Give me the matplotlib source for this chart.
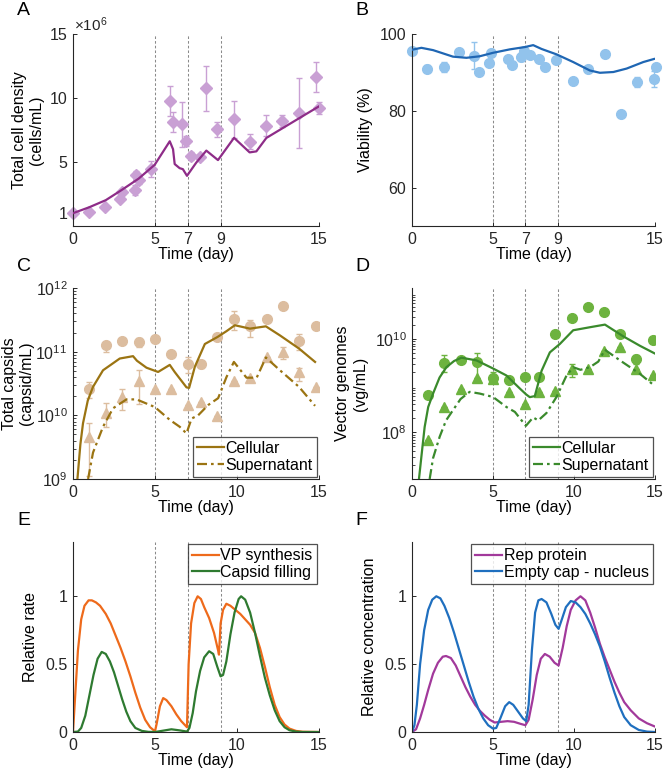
import numpy as np
import matplotlib
matplotlib.use("Agg")
import matplotlib.pyplot as plt

plt.rcParams['font.family'] = ['Liberation Sans', 'DejaVu Sans']
plt.rcParams['font.size'] = 11
plt.rcParams['mathtext.fontset'] = 'custom'
plt.rcParams['mathtext.rm'] = 'Liberation Sans'
plt.rcParams['mathtext.it'] = 'Liberation Sans'

# ---------------- A: total cell density (x1e6 cells/mL) ----------------
a_t = [0, 0.96, 1.95, 2.87, 2.97, 3.75, 3.85, 4.0, 4.78, 5.9, 6.1, 6.65, 6.91, 7.22, 7.73,
       8.13, 8.78, 9.82, 10.79, 11.74, 12.74, 13.76, 14.82, 14.98]
a_val = [1.0, 1.13, 1.47, 2.13, 2.68, 2.8, 4.0, 3.6, 4.44, 9.77, 8.12, 7.93, 6.67, 5.49, 5.36,
         10.75, 7.54, 8.33, 6.6, 7.85, 8.2, 8.83, 11.64, 9.22]
a_err = [0, 0, 0, 0.15, 0.2, 0.4, 0.3, 0.3, 0.6, 1.2, 0.75, 1.77, 0.4, 0.3, 0.2,
         1.77, 0.55, 1.45, 0.6, 0.8, 0.5, 2.7, 1.2, 0.5]
a_line_t = [0, 1, 2, 3, 4, 4.98, 5.9, 6.1, 6.2, 6.5, 6.7, 6.95, 7.52, 8.13, 8.84, 9.82,
            10.77, 11.18, 11.79, 13.4, 15]
a_line = [1.0, 1.47, 2.02, 2.84, 3.7, 4.78, 6.62, 6.0, 4.84, 4.52, 4.44, 3.92, 4.96, 5.89,
          5.15, 6.89, 5.75, 5.83, 6.88, 8.12, 9.35]

# ---------------- B: viability (%) ----------------
b_t = [0, 0.95, 1.98, 2.9, 3.85, 4.14, 4.76, 4.9, 5.91, 6.16, 6.72, 6.92, 7.27, 7.83, 8.2,
       8.86, 9.91, 10.88, 11.91, 12.88, 13.89, 14.94, 15.05]
b_val = [95.7, 91.0, 91.4, 95.4, 94.4, 90.1, 92.5, 95.1, 93.6, 92.0, 94.0, 95.5, 94.6, 93.4,
         91.4, 93.1, 87.8, 90.8, 94.9, 79.1, 87.5, 88.3, 91.3]
b_err = [0, 1.0, 1.2, 0.5, 3.5, 0, 0, 0, 0, 0, 1.0, 0, 0, 0, 0, 0, 0, 0, 0, 0, 1.3, 2.0, 0]
b_line_t = [0, 0.58, 1.3, 2.53, 3.36, 4.18, 5.0, 6.04, 6.97, 7.48, 8.0, 8.92, 9.95, 10.98,
            11.6, 12.43, 13.25, 14.28, 14.94]
b_line = [95.9, 96.4, 95.8, 94.1, 93.8, 94.2, 95.1, 96.0, 96.6, 97.1, 96.1, 94.7, 92.7, 90.5,
          89.9, 90.1, 91.0, 92.7, 93.5]

# ---------------- C: total capsids (capsid/mL) ----------------
c_t = [1, 2, 3, 4, 5, 6, 7, 7.8, 8.8, 9.8, 10.8, 11.8, 12.8, 13.8, 14.8]
c_cell = [2.6e10, 1.26e11, 1.45e11, 1.4e11, 1.6e11, 9.3e10, 6.3e10, 6.3e10, 1.7e11, 3.3e11,
          2.5e11, 3.3e11, 5.3e11, 1.45e11, 2.5e11]
c_cell_lo = [1.9e10, 9.8e10, 1.45e11, 1.18e11, 1.6e11, 9.3e10, 4.6e10, 5.5e10, 1.7e11, 2.2e11,
             1.7e11, 3.3e11, 5.3e11, 1.05e11, 2.5e11]
c_cell_hi = [3.3e10, 1.4e11, 1.45e11, 1.66e11, 1.6e11, 9.3e10, 8.3e10, 7.2e10, 1.7e11, 4.4e11,
             3.2e11, 3.3e11, 5.3e11, 1.9e11, 2.5e11]
c_sup = [4.6e9, 1.1e10, 1.95e10, 3.4e10, 2.6e10, 2.6e10, 1.45e10, 1.6e10, 9.8e9, 3.5e10,
         3.9e10, 8.3e10, 1.0e11, 4.8e10, 2.8e10]
c_sup_lo = [1.1e9, 6.6e9, 1.2e10, 1.5e10, 2.6e10, 2.6e10, 1.45e10, 1.6e10, 9.8e9, 3.5e10,
            3.9e10, 8.3e10, 7.8e10, 3.5e10, 2.8e10]
c_sup_hi = [7.6e9, 1.55e10, 2.6e10, 5.1e10, 2.6e10, 2.6e10, 1.45e10, 1.6e10, 9.8e9, 3.5e10,
            3.9e10, 8.3e10, 1.17e11, 5.6e10, 2.8e10]
c_cell_line_t = [0.27, 0.45, 0.61, 0.9, 1.22, 1.83, 2.85, 3.66, 3.9, 4.48, 5.19, 5.9, 6.2,
                 6.92, 7.08, 7.43, 8.04, 8.81, 9.36, 9.87, 10.79, 11.76, 12.62, 13.78, 14.76]
c_cell_line = [1e9, 3.5e9, 7.5e9, 1.7e10, 2.8e10, 5.1e10, 7.8e10, 8.5e10, 7.2e10, 5.6e10,
               4.8e10, 6.2e10, 4.8e10, 2.75e10, 2.7e10, 5.8e10, 1.32e11, 1.7e11, 2.1e11,
               2.6e11, 2.3e11, 2.5e11, 1.8e11, 1.12e11, 6.9e10]
c_sup_line_t = [0.92, 1.22, 1.83, 2.44, 3.26, 3.87, 4.99, 5.9, 6.51, 6.92, 7.23, 7.63, 8.24,
                8.85, 9.36, 9.81, 10.58, 11.2, 11.76, 12.62, 13.78, 14.76]
c_sup_line = [1e9, 2.6e9, 6.6e9, 1.29e10, 1.78e10, 1.78e10, 1.35e10, 8.5e9, 6.6e9, 5.2e9,
              8.9e9, 1.0e10, 1.45e10, 1.86e10, 4.0e10, 6.9e10, 3.9e10, 3.9e10, 8.1e10,
              5.1e10, 2.8e10, 1.41e10]

# ---------------- D: vector genomes (vg/mL) ----------------
d_t = [1, 2, 3, 4, 5, 6, 7, 7.85, 8.85, 9.85, 10.85, 11.85, 12.85, 13.85, 14.9]
d_cell = [6.3e8, 3.1e9, 3.6e9, 3.3e9, 1.5e9, 1.35e9, 1.55e9, 1.55e9, 1.26e10, 2.9e10,
          5.0e10, 3.9e10, 1.3e10, 3.8e9, 9.4e9]
d_cell_lo = [6.3e8, 2.0e9, 3.2e9, 1.4e9, 1.2e9, 1.35e9, 1.55e9, 1.55e9, 1.26e10, 2.9e10,
             5.0e10, 3.9e10, 1.3e10, 3.0e9, 9.4e9]
d_cell_hi = [6.3e8, 4.5e9, 4.2e9, 5.0e9, 2.0e9, 1.35e9, 1.55e9, 1.55e9, 1.26e10, 2.9e10,
             5.0e10, 3.9e10, 1.3e10, 4.5e9, 9.4e9]
d_sup = [7e7, 3.5e8, 8.4e8, 1.5e9, 1.4e9, 7.4e8, 4e8, 7.4e8, 7.6e8, 2.3e9, 2.3e9, 5.7e9,
         6.9e9, 2.3e9, 1.66e9]
d_sup_lo = [7e7, 3.5e8, 8.4e8, 1.5e9, 1.4e9, 7.4e8, 4e8, 7.4e8, 7.6e8, 1.55e9, 2.3e9, 5.7e9,
            6.9e9, 2.3e9, 1.66e9]
d_sup_hi = [7e7, 3.5e8, 8.4e8, 1.5e9, 1.4e9, 7.4e8, 4e8, 7.4e8, 7.6e8, 2.9e9, 2.3e9, 5.7e9,
            6.9e9, 2.3e9, 1.66e9]
d_cell_line_t = [0.43, 0.6, 0.78, 1.0, 1.3, 1.7, 2.12, 2.6, 3.05, 3.98, 5.0, 5.83, 6.66,
                 7.05, 7.27, 7.58, 8.0, 8.51, 9.13, 9.95, 10.98, 11.91, 13.04, 14.07, 15.0]
d_cell_line = [1e7, 3.5e7, 1.3e8, 3.5e8, 6.8e8, 1.5e9, 2.5e9, 3.4e9, 4.0e9, 3.5e9, 2.35e9,
               1.66e9, 8.7e8, 6.5e8, 5.7e8, 6.0e8, 2.1e9, 5.2e9, 7.9e9, 1.55e10, 1.8e10,
               2.05e10, 1.15e10, 7.2e9, 4.9e9]
d_sup_line_t = [1.09, 1.3, 1.71, 2.1, 2.53, 3.0, 3.56, 4.18, 5.0, 5.83, 6.35, 7.03, 7.48,
                7.79, 8.3, 8.92, 9.54, 9.95, 10.4, 10.98, 11.5, 11.91, 12.84, 14.07, 15.0]
d_sup_line = [1e7, 2.8e7, 8.1e7, 1.8e8, 3.0e8, 5.2e8, 7.4e8, 6.8e8, 5.75e8, 3.5e8, 2.75e8,
              1.38e8, 2.1e8, 1.8e8, 2.6e8, 5.75e8, 1.66e9, 2.5e9, 2.2e9, 2.5e9, 3.3e9,
              5.9e9, 3.5e9, 1.8e9, 9.8e8]

# ---------------- E: relative rates ----------------
e_vp_t = [0, 0.15, 0.3, 0.5, 0.7, 0.95, 1.15, 1.4, 1.65, 2.0, 2.3, 2.6, 2.9, 3.2, 3.5, 3.8,
          4.1, 4.4, 4.7, 5.0, 5.1, 5.3, 5.5, 5.7, 6.0, 6.3, 6.6, 6.95, 7.05, 7.2, 7.4, 7.6,
          7.8, 8.0, 8.3, 8.6, 8.85, 8.9, 9.0, 9.15, 9.35, 9.6, 9.9, 10.2, 10.5, 10.8, 11.1,
          11.4, 11.7, 12.0, 12.3, 12.6, 12.9, 13.2, 13.6, 14.0, 15]
e_vp = [0, 0.3, 0.6, 0.83, 0.93, 0.97, 0.97, 0.955, 0.93, 0.87, 0.8, 0.71, 0.62, 0.52,
        0.41, 0.29, 0.18, 0.09, 0.035, 0.005, 0.06, 0.19, 0.25, 0.235, 0.19, 0.13, 0.08,
        0.035, 0.5, 0.8, 0.95, 1.0, 0.98, 0.92, 0.84, 0.73, 0.6, 0.57, 0.8, 0.9, 0.945,
        0.93, 0.9, 0.87, 0.83, 0.79, 0.73, 0.62, 0.48, 0.33, 0.2, 0.11, 0.055, 0.025, 0.008,
        0.002, 0]
e_cf_t = [0, 0.3, 0.5, 0.75, 1.0, 1.25, 1.5, 1.75, 2.0, 2.25, 2.5, 2.75, 3.0, 3.25, 3.5,
          3.8, 4.2, 4.6, 5.0, 5.5, 6.0, 6.5, 6.95, 7.1, 7.3, 7.5, 7.75, 8.0, 8.3, 8.55, 8.8,
          9.0, 9.15, 9.35, 9.6, 9.85, 10.1, 10.25, 10.5, 10.8, 11.1, 11.4, 11.7, 12.0, 12.3,
          12.6, 12.9, 13.2, 13.6, 14, 15]
e_cf = [0, 0.003, 0.03, 0.12, 0.27, 0.42, 0.54, 0.59, 0.575, 0.52, 0.44, 0.34, 0.24, 0.15,
        0.08, 0.03, 0.008, 0.001, 0, 0.01, 0.02, 0.012, 0.003, 0.03, 0.14, 0.3, 0.45, 0.55,
        0.595, 0.575, 0.48, 0.41, 0.42, 0.52, 0.72, 0.88, 0.98, 1.0, 0.975, 0.88, 0.73,
        0.56, 0.4, 0.27, 0.16, 0.08, 0.035, 0.013, 0.003, 0, 0]

# ---------------- F: relative concentrations ----------------
f_rep_t = [0, 0.25, 0.5, 0.75, 1.0, 1.3, 1.6, 1.9, 2.1, 2.4, 2.7, 3.0, 3.3, 3.6, 3.9, 4.2,
           4.5, 4.8, 5.1, 5.5, 5.9, 6.3, 6.7, 7.0, 7.2, 7.45, 7.7, 7.95, 8.2, 8.5, 8.8, 9.05,
           9.3, 9.55, 9.8, 10.1, 10.4, 10.7, 11.0, 11.3, 11.6, 11.9, 12.2, 12.5, 12.8, 13.1,
           13.5, 14.0, 14.5, 15]
f_rep = [0, 0.02, 0.1, 0.2, 0.31, 0.43, 0.51, 0.555, 0.56, 0.545, 0.49, 0.41, 0.33, 0.26,
         0.2, 0.155, 0.12, 0.09, 0.07, 0.075, 0.08, 0.075, 0.06, 0.05, 0.09, 0.24, 0.42,
         0.54, 0.575, 0.555, 0.51, 0.49, 0.62, 0.78, 0.9, 0.97, 1.0, 0.97, 0.88, 0.77, 0.65,
         0.55, 0.46, 0.37, 0.29, 0.22, 0.16, 0.1, 0.065, 0.04]
f_cap_t = [0, 0.15, 0.3, 0.5, 0.75, 1.0, 1.25, 1.5, 1.75, 2.0, 2.3, 2.6, 2.9, 3.2, 3.5,
           3.8, 4.1, 4.4, 4.7, 5.0, 5.2, 5.45, 5.75, 6.0, 6.25, 6.55, 6.85, 7.05, 7.2, 7.4,
           7.6, 7.8, 8.0, 8.3, 8.6, 8.85, 9.05, 9.25, 9.5, 9.8, 10.1, 10.4, 10.7, 11.0, 11.3,
           11.6, 11.9, 12.2, 12.5, 12.8, 13.1, 13.5, 14.0, 14.5, 15]
f_cap = [0, 0.05, 0.2, 0.5, 0.75, 0.9, 0.975, 1.0, 0.985, 0.93, 0.84, 0.73, 0.61, 0.49,
         0.37, 0.26, 0.17, 0.1, 0.05, 0.025, 0.03, 0.1, 0.19, 0.22, 0.2, 0.15, 0.1, 0.08,
         0.2, 0.6, 0.88, 0.97, 0.98, 0.955, 0.87, 0.79, 0.76, 0.83, 0.92, 0.965, 0.955,
         0.92, 0.87, 0.8, 0.72, 0.63, 0.52, 0.4, 0.29, 0.19, 0.11, 0.05, 0.015, 0.003, 0]

feed_days = [5, 7, 9]

W, H = 666, 777
FS = 11.5
fig = plt.figure(figsize=(W / 100, H / 100), dpi=100)


def px_axes(left, top, right, bottom):
    return fig.add_axes([left / W, 1 - bottom / H, (right - left) / W, (bottom - top) / H])


def style(ax, letter, lx, ly):
    for s in ['top', 'right']:
        ax.spines[s].set_visible(False)
    for s in ['left', 'bottom']:
        ax.spines[s].set_color('#262626')
        ax.spines[s].set_linewidth(0.8)
    ax.tick_params(direction='in', length=3, width=0.7, colors='#262626', labelsize=FS,
                   pad=4)
    ax.tick_params(which='minor', direction='in', length=1.8, width=0.5)
    ax.set_xlim(0, 15)
    ax.set_xlabel('Time (day)', fontsize=FS, labelpad=0)
    for d in feed_days:
        ax.axvline(d, color='#8a8a8a', lw=0.75, ls=(0, (2.5, 2)), zorder=0)
    fig.text(lx / W, 1 - ly / H, letter, fontsize=14, va='top')


def add_legend(ax, loc):
    leg = ax.legend(loc=loc, fontsize=FS, frameon=True, fancybox=False,
                    edgecolor='#262626', handlelength=1.7, handletextpad=0.1, borderpad=0.25,
                    labelspacing=0.1, borderaxespad=0.15)
    leg.get_frame().set_linewidth(0.9)


LW = 1.6
DASHDOT = (0, (4.5, 1.8, 1.2, 1.8))

# A
ax = px_axes(73, 34, 319, 226)
style(ax, 'A', 17, 2)
ax.errorbar(a_t, a_val, yerr=a_err, fmt='D', color='#c9a0d4', ms=6, elinewidth=1,
            capsize=2, capthick=1, zorder=2, clip_on=False)
ax.plot(a_line_t, a_line, color='#8e2c88', lw=LW, zorder=3)
ax.set_ylim(0, 15)
ax.set_yticks([1, 5, 10, 15])
ax.set_xticks([0, 5, 7, 9, 15])
ax.set_ylabel('Total cell density\n(cells/mL)', fontsize=FS, labelpad=4)
ax.text(0.005, 1.0, r'$\times10^{6}$', transform=ax.transAxes, fontsize=11, color='#262626',
        va='bottom', ha='left')

# B
ax = px_axes(412, 34, 655, 226)
style(ax, 'B', 355, 2)
ax.errorbar(b_t, b_val, yerr=b_err, fmt='o', color='#92c3ec', ms=7, elinewidth=1,
            capsize=2, capthick=1, zorder=2, clip_on=False)
ax.plot(b_line_t, b_line, color='#1f66b3', lw=LW, zorder=3)
ax.set_ylim(50, 100)
ax.set_yticks([60, 80, 100])
ax.set_xticks([0, 5, 7, 9, 15])
ax.set_ylabel('Viability (%)', fontsize=FS, labelpad=5)

# C
ax = px_axes(73, 288, 319, 479)
style(ax, 'C', 17, 258)
ax.set_yscale('log')
ax.errorbar(c_t, c_cell, yerr=[np.array(c_cell) - np.array(c_cell_lo),
                                np.array(c_cell_hi) - np.array(c_cell)],
            fmt='o', color='#dcbd9f', ms=7, elinewidth=1, capsize=2, capthick=1, zorder=2)
ax.errorbar(c_t, c_sup, yerr=[np.array(c_sup) - np.array(c_sup_lo),
                               np.array(c_sup_hi) - np.array(c_sup)],
            fmt='^', color='#dcbd9f', ms=7.5, elinewidth=1, capsize=2, capthick=1, zorder=2)
ax.plot(c_cell_line_t, c_cell_line, color='#9b7412', lw=LW, zorder=3, label='Cellular')
ax.plot(c_sup_line_t, c_sup_line, color='#9b7412', lw=LW, ls=DASHDOT, zorder=3,
        label='Supernatant')
ax.set_ylim(1e9, 1e12)
ax.set_yticks([1e9, 1e10, 1e11, 1e12])
ax.set_xticks([0, 5, 10, 15])
ax.set_ylabel('Total capsids\n(capsid/mL)', fontsize=FS, labelpad=1)
add_legend(ax, 'lower right')

# D
ax = px_axes(412, 288, 655, 479)
style(ax, 'D', 355, 258)
ax.set_yscale('log')
ax.errorbar(d_t, d_cell, yerr=[np.array(d_cell) - np.array(d_cell_lo),
                                np.array(d_cell_hi) - np.array(d_cell)],
            fmt='o', color='#6db33f', ms=7, elinewidth=1, capsize=2, capthick=1, zorder=2)
ax.errorbar(d_t, d_sup, yerr=[np.array(d_sup) - np.array(d_sup_lo),
                               np.array(d_sup_hi) - np.array(d_sup)],
            fmt='^', color='#6db33f', ms=7.5, elinewidth=1, capsize=2, capthick=1, zorder=2)
ax.plot(d_cell_line_t, d_cell_line, color='#3a8a2c', lw=LW, zorder=3, label='Cellular')
ax.plot(d_sup_line_t, d_sup_line, color='#3a8a2c', lw=LW, ls=DASHDOT, zorder=3,
        label='Supernatant')
ax.set_ylim(1e7, 1.25e11)
ax.set_yticks([1e8, 1e10])
ax.set_xticks([0, 5, 10, 15])
ax.set_ylabel('Vector genomes\n(vg/mL)', fontsize=FS, labelpad=5)
add_legend(ax, 'lower right')

# E
ax = px_axes(73, 542, 319, 732)
style(ax, 'E', 17, 512)
ax.plot(e_vp_t, e_vp, color='#ee6a1b', lw=LW, label='VP synthesis')
ax.plot(e_cf_t, e_cf, color='#2e7a30', lw=LW, label='Capsid filling')
ax.set_ylim(0, 1.4)
ax.set_yticks([0, 0.5, 1])
ax.set_yticklabels(['0', '0.5', '1'])
ax.set_xticks([0, 5, 10, 15])
ax.set_ylabel('Relative rate', fontsize=FS, labelpad=5)
add_legend(ax, 'upper right')

# F
ax = px_axes(412, 542, 655, 732)
style(ax, 'F', 355, 512)
ax.plot(f_rep_t, f_rep, color='#a2399b', lw=LW, label='Rep protein')
ax.plot(f_cap_t, f_cap, color='#1f6fbf', lw=LW, label='Empty cap - nucleus')
ax.set_ylim(0, 1.4)
ax.set_yticks([0, 0.5, 1])
ax.set_yticklabels(['0', '0.5', '1'])
ax.set_xticks([0, 5, 10, 15])
ax.set_ylabel('Relative concentration', fontsize=FS, labelpad=5)
add_legend(ax, 'upper right')

fig.savefig('out.png', dpi=100)
